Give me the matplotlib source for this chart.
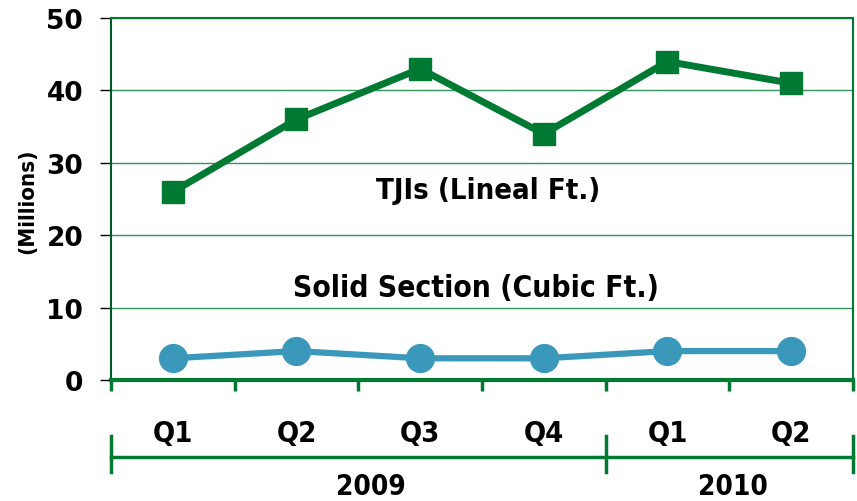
import matplotlib
matplotlib.use("Agg")
import matplotlib.pyplot as plt

# DATA
quarters = ["Q1", "Q2", "Q3", "Q4", "Q1", "Q2"]
years = ["2009", "2010"]
year_spans = [(0, 3), (4, 5)]
tjis = [26, 36, 43, 34, 44, 41]
solid = [3, 4, 3, 3, 4, 4]
yticks = [0, 10, 20, 30, 40, 50]

green = "#007A33"
blue = "#3A98BB"

plt.rcParams["font.family"] = ["DejaVu Sans"]

fig = plt.figure(figsize=(8.57, 5.02), dpi=100)
ax = fig.add_axes([0.1295, 0.241, 0.8658, 0.721])

x = range(len(quarters))
ax.plot(x, tjis, color=green, lw=5, marker="s", ms=15.5, zorder=3)
ax.plot(x, solid, color=blue, lw=4.5, marker="o", ms=20, zorder=3)

ax.set_xlim(-0.5, len(quarters) - 0.5)
ax.set_ylim(0, 50)
ax.set_yticks(yticks)
ax.set_yticklabels([str(v) for v in yticks], fontsize=19, fontweight="bold")
ax.tick_params(axis="y", length=8, width=1, color="black", pad=12)
ax.grid(axis="y", color=green, lw=1, alpha=0.8)
ax.set_axisbelow(True)

ax.set_xticks(list(x))
ax.set_xticklabels(quarters, fontsize=21, fontweight="bold", fontstretch="condensed")
ax.tick_params(axis="x", which="major", length=0, pad=28)
ax.set_xticks([i - 0.5 for i in range(len(quarters) + 1)], minor=True)
ax.tick_params(axis="x", which="minor", length=8, width=2.5, color=green)

for s in ax.spines.values():
    s.set_color(green)
    s.set_linewidth(1.5)
ax.spines["left"].set_color("#005a25")
ax.spines["bottom"].set_linewidth(3)

ax.set_ylabel("(Millions)", fontsize=16, fontweight="bold", fontstretch="condensed")
ax.yaxis.set_label_coords(-0.1, 0.497)

ax.text(2.55, 26.3, "TJIs (Lineal Ft.)", ha="center", va="center",
        fontsize=21, fontweight="bold", fontstretch="condensed")
ax.text(2.45, 12.8, "Solid Section (Cubic Ft.)", ha="center", va="center",
        fontsize=21.5, fontweight="bold", fontstretch="condensed")

# year bar below the quarters
tr = ax.get_xaxis_transform()
ax.plot([-0.5, len(quarters) - 0.5], [-0.2127, -0.2127], color=green, lw=2.5,
        transform=tr, clip_on=False)
for b in [-0.5, 3.5, 5.5]:
    ax.plot([b, b], [-0.155, -0.254], color=green, lw=2.5, transform=tr, clip_on=False)
for yr, (a, b) in zip(years, year_spans):
    ax.text((a + b) / 2 + 0.1 * (b - a) / 3, -0.294, yr, transform=tr, ha="center", va="center",
            fontsize=20, fontweight="bold", fontstretch="condensed")

fig.savefig("out.png", dpi=100)
